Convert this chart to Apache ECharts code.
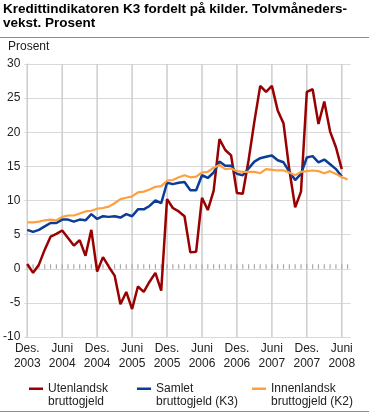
<!DOCTYPE html>
<html><head><meta charset="utf-8">
<script src="https://cdn.jsdelivr.net/npm/echarts@6/dist/echarts.min.js"></script>
<style>html,body{margin:0;padding:0;background:#fff}#c{width:369px;height:413px}</style>
</head><body><div id="c"></div>
<script>
// Month index 0 = Des. 2003
const tickMonths = [0, 6, 12, 18, 24, 30, 36, 42, 48, 54];
const tickLabels = ['Des.\n2003','Juni\n2004','Des.\n2004','Juni\n2005','Des.\n2005','Juni\n2006','Des.\n2006','Juni\n2007','Des.\n2007','Juni\n2008'];
const seriesNames = ['Utenlandsk\nbruttogjeld', 'Samlet\nbruttogjeld (K3)', 'Innenlandsk\nbruttogjeld (K2)'];
const seriesColors = ['#990000', '#0b3c96', '#ff9f3f'];

const utenlandsk = [0.7, -0.6, 0.6, 2.8, 4.7, 5.1, 5.6, 4.5, 3.4, 4.2, 1.9, 5.7,
  -0.4, 1.7, 0.3, -1.0, -5.2, -3.4, -5.9, -2.6, -3.4, -1.9, -0.6, -3.2,
  10.2, 8.9, 8.4, 7.7, 2.4, 2.5, 10.4, 8.6, 11.4, 19.0, 17.4, 16.6,
  11.1, 11.0, 15.9, 21.6, 26.8, 25.9, 26.8, 23.2, 21.3, 14.5, 9.0, 11.3,
  25.9, 26.3, 21.2, 24.5, 20.1, 17.8, 14.6];
const samlet = [5.7, 5.4, 5.7, 6.2, 6.7, 6.7, 7.2, 7.2, 6.9, 7.2, 7.1, 8.0,
  7.3, 7.7, 7.6, 7.7, 7.5, 8.0, 7.7, 8.7, 8.7, 9.2, 10.0, 9.6,
  12.6, 12.4, 12.6, 12.7, 11.5, 11.5, 13.7, 13.3, 14.1, 15.7, 15.1, 15.1,
  13.9, 13.7, 14.7, 15.7, 16.2, 16.4, 16.6, 15.9, 15.6, 14.2, 13.0, 13.9,
  16.3, 16.5, 15.6, 16.0, 15.3, 14.6, 13.5];
const innenlandsk = [6.8, 6.8, 6.9, 7.1, 7.2, 7.1, 7.6, 7.8, 7.8, 8.1, 8.4, 8.5,
  8.8, 8.9, 9.1, 9.6, 10.2, 10.4, 10.6, 11.2, 11.3, 11.6, 12.0, 12.1,
  12.9, 13.0, 13.4, 13.7, 13.4, 13.5, 14.1, 14.2, 14.8, 15.2, 14.6, 14.7,
  14.3, 14.2, 14.2, 14.2, 14.0, 14.6, 14.5, 14.4, 14.4, 14.1, 13.7, 14.2,
  14.3, 14.4, 14.3, 14.0, 14.3, 13.9, 13.4, 13.1];

const FONT = '"Liberation Sans", Arial, sans-serif';
const allMonths = innenlandsk.map((v, i) => i);
const values = [utenlandsk, samlet, innenlandsk];
const yMin = -10, yMax = 30;
const zeroTickHeight = 0.65; // small month ticks on the zero line (in y units)

// vertical grid lines at the labelled months, and small month ticks on the zero line,
// both drawn through the axes as broken line series
const gridData = [];
tickMonths.forEach(m => { gridData.push([m, yMin], [m, yMax], [m, '-']); });
const tickData = [];
allMonths.forEach(m => { tickData.push([m, 0], [m, zeroTickHeight], [m, '-']); });

const chart = echarts.init(document.getElementById('c'), null, {renderer: 'canvas'});
const legendIcon = 'path://M0,0L15,0L15,2.6L0,2.6Z M0,16L0.01,16L0.01,16.01Z';
const legendLefts = [29, 137, 252];

const helperSeries = (data, color, width) => ({
  type: 'line', data: data, showSymbol: false, symbol: 'none', silent: true,
  connectNulls: false, z: 1, lineStyle: {color: color, width: width}, itemStyle: {color: color},
  emphasis: {disabled: true}, tooltip: {show: false}
});

chart.setOption({
  animation: false,
  backgroundColor: '#fff',
  title: [
    {text: 'Kredittindikatoren K3 fordelt på kilder. Tolvmåneders-\nvekst. Prosent', left: 3, top: 2, padding: 0,
     textStyle: {fontFamily: FONT, fontSize: 13.5, fontWeight: 'bold', color: '#000', lineHeight: 14}},
    {text: 'Prosent', left: 8, top: 41, padding: 0,
     textStyle: {fontFamily: FONT, fontSize: 12, fontWeight: 'normal', color: '#222'}}
  ],
  graphic: [
    {type: 'line', shape: {x1: 0, y1: 37.5, x2: 369, y2: 37.5}, style: {stroke: '#8c8c8c', lineWidth: 1}},
    {type: 'line', shape: {x1: 0, y1: 411.5, x2: 369, y2: 411.5}, style: {stroke: '#8c8c8c', lineWidth: 1}}
  ],
  legend: seriesNames.map((n, i) => ({
    data: [n], left: legendLefts[i], top: 382, padding: 0, icon: legendIcon,
    itemWidth: 14, itemHeight: 16, selectedMode: false,
    itemStyle: {borderWidth: 0}, lineStyle: {width: 0},
    textStyle: {fontFamily: FONT, fontSize: 12, color: '#222', lineHeight: 13}
  })),
  grid: {left: 20.5, right: 18.5, top: 64, bottom: 76, containLabel: false},
  xAxis: {type: 'value', min: -0.5, max: 55.5, position: 'bottom',
     axisLine: {show: false, onZero: false},
     axisTick: {show: false, customValues: tickMonths},
     axisLabel: {customValues: tickMonths, fontFamily: FONT, fontSize: 12, color: '#222', lineHeight: 15, margin: 4,
       formatter: v => tickLabels[tickMonths.indexOf(v)] || ''},
     splitLine: {show: false}},
  yAxis: {type: 'value', min: yMin, max: yMax, interval: 5,
    axisLine: {show: true, lineStyle: {color: '#c8c8c8', width: 1}},
    axisTick: {show: false},
    axisLabel: {fontFamily: FONT, fontSize: 12, color: '#222', margin: 4},
    splitLine: {lineStyle: {color: '#d9d9d9', width: 1}}},
  series: [helperSeries(gridData, '#cdcdcd', 1.5), helperSeries(tickData, '#a8a8a8', 1.2)].concat(values.map((arr, k) => ({
    name: seriesNames[k], type: 'line', showSymbol: false, symbol: 'none',
    data: arr.map((v, i) => [allMonths[i], v]),
    itemStyle: {color: seriesColors[k]},
    lineStyle: {color: seriesColors[k], width: k === 2 ? 2.2 : 2.5},
    z: 2 + k
  })))
});
</script></body></html>
